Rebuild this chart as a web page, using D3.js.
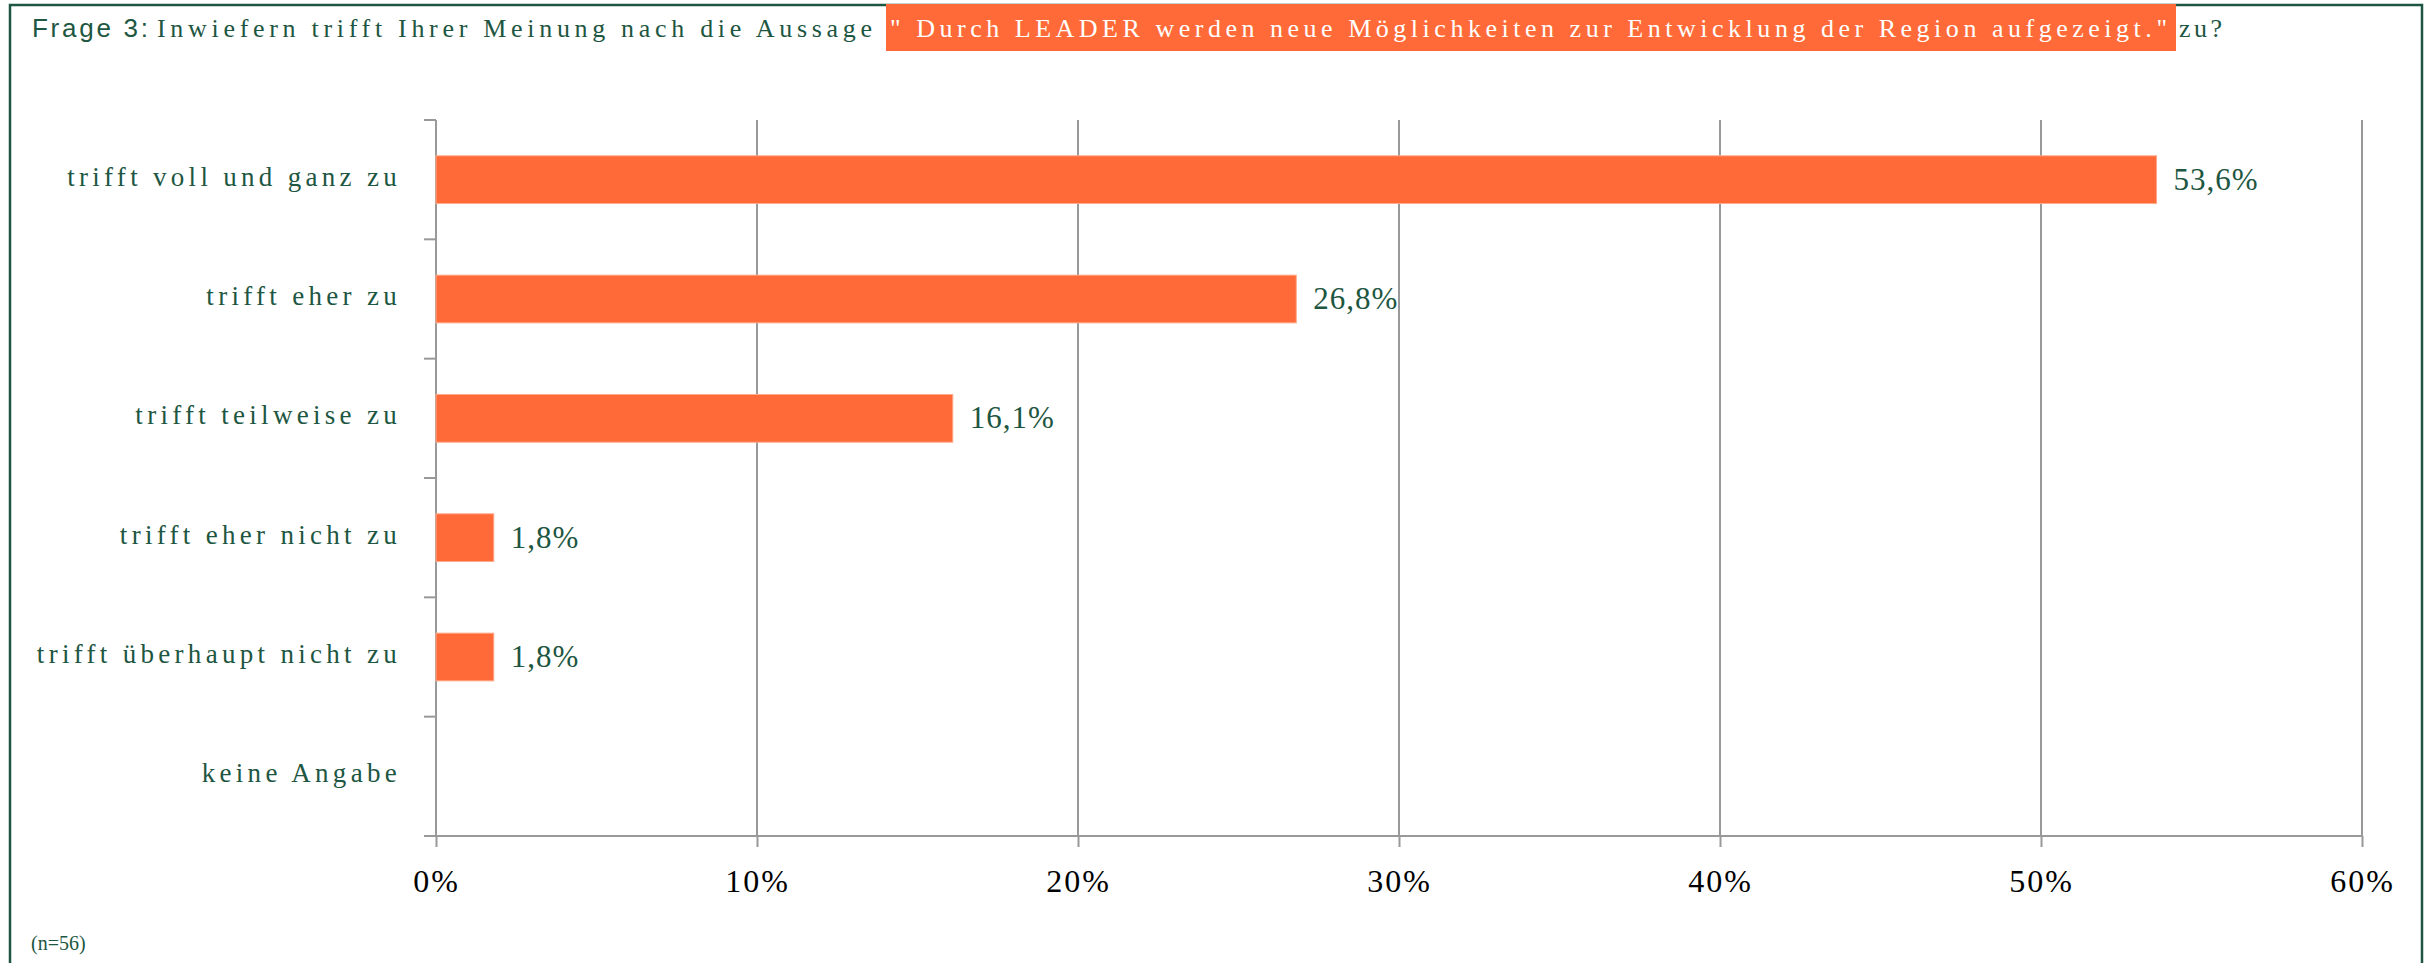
<!DOCTYPE html>
<html>
<head>
<meta charset="utf-8">
<script src="https://cdn.jsdelivr.net/npm/d3@7"></script>
<style>
  body { margin: 0; background: #fff; }
  svg { display: block; }
</style>
</head>
<body>
<svg id="chart" width="2433" height="963"></svg>
<script>
// data
var categories = [
    "trifft voll und ganz zu",
    "trifft eher zu",
    "trifft teilweise zu",
    "trifft eher nicht zu",
    "trifft überhaupt nicht zu",
    "keine Angabe"
];
var values = [53.6, 26.8, 16.1, 1.8, 1.8, null];
var xTicks = [0, 10, 20, 30, 40, 50, 60];
var titleParts = [
    "Frage 3:",
    "Inwiefern trifft Ihrer Meinung nach die Aussage",
    "\" Durch LEADER werden neue Möglichkeiten zur Entwicklung der Region aufgezeigt.\"",
    "zu?"
];
var footnote = "(n=56)";

var green = "#1d5641",
    orange = "#ff6a38",
    grid = "#999999";

var svg = d3.select("#chart");

// frame
svg.append("rect")
    .attr("x", 10).attr("y", 5)
    .attr("width", 2412).attr("height", 975)
    .attr("fill", "none")
    .attr("stroke", green)
    .attr("stroke-width", 2.5);

// title
var title = svg.append("g").attr("class", "title");
title.append("rect")
    .attr("x", 886).attr("y", 4)
    .attr("width", 1290).attr("height", 47)
    .attr("fill", orange);

var segs = [
    { text: titleParts[0], x: 32, len: 116, font: "'Liberation Sans', Arial, sans-serif", size: 26, color: green },
    { text: titleParts[1], x: 157, len: 715, font: "'Liberation Serif', 'Times New Roman', serif", size: 26, color: green },
    { text: titleParts[2], x: 890, len: 1277, font: "'Liberation Serif', 'Times New Roman', serif", size: 26, color: "#fff" },
    { text: titleParts[3], x: 2179, len: 43, font: "'Liberation Serif', 'Times New Roman', serif", size: 26, color: green }
];
title.selectAll("text.seg")
    .data(segs)
    .enter().append("text")
    .attr("class", "seg")
    .attr("x", function(d) { return d.x; })
    .attr("y", 37)
    .attr("textLength", function(d) { return d.len; })
    .attr("lengthAdjust", "spacing")
    .style("font-family", function(d) { return d.font; })
    .style("font-size", function(d) { return d.size + "px"; })
    .attr("fill", function(d) { return d.color; })
    .text(function(d) { return d.text; });

// scales
var x0 = 436, x1 = 2362, yTop = 120, yBot = 836;

var x = d3.scaleLinear().domain([0, 60]).range([x0, x1]);
var y = d3.scaleBand().domain(categories).range([yTop, yBot])
    .paddingInner(0.6).paddingOuter(0.3);

// vertical grid lines
svg.append("g")
    .selectAll("line")
    .data(xTicks)
    .enter().append("line")
    .attr("x1", function(d) { return x(d); })
    .attr("x2", function(d) { return x(d); })
    .attr("y1", yTop)
    .attr("y2", yBot)
    .attr("stroke", grid)
    .attr("stroke-width", 2);

// x axis
var xAxis = svg.append("g")
    .attr("transform", "translate(0," + yBot + ")")
    .attr("font-family", "'Liberation Serif', 'Times New Roman', serif")
    .call(d3.axisBottom(x).tickValues(xTicks).tickSize(11).tickPadding(22)
        .tickFormat(function(d) { return d + "%"; }));
xAxis.select(".domain").remove();
xAxis.selectAll(".tick line").attr("stroke", grid).attr("stroke-width", 2);
xAxis.selectAll(".tick text")
    .attr("fill", "#000")
    .style("font-family", "'Liberation Serif', 'Times New Roman', serif")
    .style("font-size", "32px")
    .style("letter-spacing", "2px");
svg.append("line")
    .attr("x1", x0 - 12).attr("x2", x1)
    .attr("y1", yBot).attr("y2", yBot)
    .attr("stroke", grid).attr("stroke-width", 2);

// y axis ticks at band boundaries
var step = y.step();
var bounds = d3.range(categories.length + 1).map(function(i) { return yTop + i * step; });
svg.append("g")
    .selectAll("line")
    .data(bounds)
    .enter().append("line")
    .attr("x1", x0 - 12).attr("x2", x0)
    .attr("y1", function(d) { return d; })
    .attr("y2", function(d) { return d; })
    .attr("stroke", grid).attr("stroke-width", 2);

// category labels
svg.append("g")
    .selectAll("text")
    .data(categories)
    .enter().append("text")
    .attr("x", 401)
    .attr("y", function(d) { return y(d) + y.bandwidth() / 2 + 6; })
    .attr("text-anchor", "end")
    .attr("fill", green)
    .style("font-family", "'Liberation Serif', 'Times New Roman', serif")
    .style("font-size", "27px")
    .style("letter-spacing", "4.3px")
    .text(function(d) { return d; });

// bars
var barData = categories.map(function(c, i) { return { cat: c, val: values[i] }; })
    .filter(function(d) { return d.val != null; });

svg.append("g")
    .selectAll("rect")
    .data(barData)
    .enter().append("rect")
    .attr("x", x(0))
    .attr("y", function(d) { return y(d.cat); })
    .attr("width", function(d) { return x(d.val) - x(0); })
    .attr("height", y.bandwidth())
    .attr("fill", orange)
    .attr("stroke", "#ffab8c")
    .attr("stroke-width", 1);

// value labels
svg.append("g")
    .selectAll("text")
    .data(barData)
    .enter().append("text")
    .attr("x", function(d) { return x(d.val) + 17; })
    .attr("y", function(d) { return y(d.cat) + y.bandwidth() / 2 + 10; })
    .attr("fill", green)
    .style("font-family", "'Liberation Serif', 'Times New Roman', serif")
    .style("font-size", "31px")
    .style("letter-spacing", "1px")
    .text(function(d) { return d3.format(".1f")(d.val).replace(".", ",") + "%"; });

// footnote
svg.append("text")
    .attr("x", 31).attr("y", 950)
    .attr("fill", green)
    .style("font-family", "'Liberation Serif', 'Times New Roman', serif")
    .style("font-size", "20px")
    .text(footnote);
</script>
</body>
</html>
